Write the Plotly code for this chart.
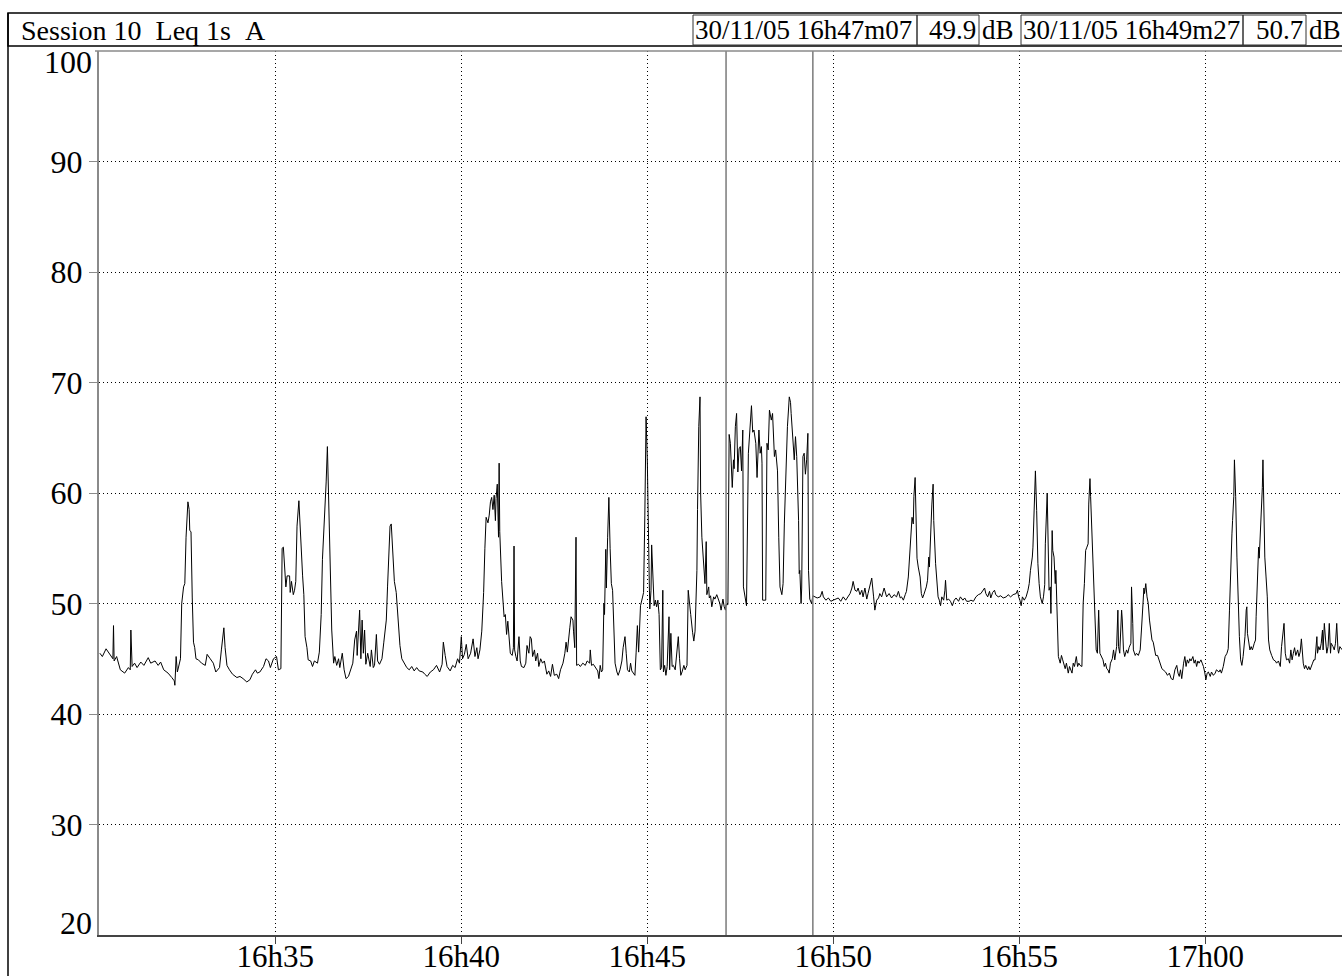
import pandas as pd
import plotly.graph_objects as go

# ---------------- data ----------------
SESSION_DAY = "2005-11-30"
START_TIME = "16:30:00"

# seconds after 16:30:00 and Leq 1s (dB(A))
t_sec = [
    17, 21, 27, 31, 35, 38, 39, 40, 44, 47, 50, 57, 63, 66, 67, 69, 73, 77, 83, 88,
    95, 99, 106, 111, 115, 120, 127, 133, 137, 138, 140, 142, 145, 147, 149, 152, 154, 156, 159, 161,
    162, 164, 166, 168, 170, 172, 176, 181, 187, 190, 195, 200, 204, 210, 213, 217, 219, 222, 226, 231,
    238, 243, 248, 254, 259, 263, 268, 271,
    275, 281, 285, 289, 292, 297, 302, 305, 309, 311, 313, 315, 317, 319, 323, 324, 326, 329, 331, 333,
    335, 338, 340, 342, 344, 346, 348, 351, 353, 357, 360, 363, 368, 371, 374, 376, 379, 382, 384, 386,
    388, 391, 394, 396, 399, 402, 404, 408, 411, 414, 418, 422, 425, 428, 431, 432, 434, 436, 438, 440,
    442, 444, 446, 449, 453, 455, 458, 460, 463, 465, 468, 472, 475, 479, 481, 483, 485, 487, 489, 490,
    492, 495, 497, 499, 501, 504, 508, 512, 516, 520, 524, 528, 532,
    538, 541, 545, 550, 555, 560, 565, 569, 571, 574, 577, 582, 586, 590, 594, 597, 600, 602, 605, 608,
    611, 615, 619, 622, 625, 627, 630, 633, 636, 638, 640, 643, 645, 647, 649, 651, 653, 655, 656, 658,
    660, 661, 662, 665, 667, 669, 671, 673, 675, 677, 679, 682, 684, 685, 686, 688, 690, 693, 695, 697,
    701, 704, 706, 709, 711, 713, 715, 718, 720, 723, 725, 728, 731, 734, 738, 741, 744, 747, 750, 754,
    757, 760, 764, 767, 769, 771, 773, 775, 777, 780, 781, 783, 785, 786, 789,
    792, 796, 800, 803, 807, 808, 810, 813, 817, 820, 822, 824, 826, 828, 830, 831, 833, 834, 836, 838,
    840, 842, 844, 846, 848, 851, 853, 856, 859, 861, 864, 866, 868, 871, 873, 875, 878, 880, 882, 884,
    886, 887, 889, 892, 894, 896, 898, 900, 901, 903, 904, 906, 907, 909, 911, 913, 915, 917, 919, 921,
    923, 925, 926, 928, 930, 932, 935, 936, 938, 940, 942, 945, 947, 950, 952, 954, 956, 959, 961, 964,
    966, 968, 970, 973, 975, 977, 980, 981, 983, 985, 986, 988, 990, 993, 995, 996, 999, 1000, 1002, 1004,
    1007, 1009, 1012, 1015, 1017, 1019, 1022, 1024, 1026, 1027, 1030, 1032, 1034, 1037, 1039, 1040, 1042, 1044, 1046, 1048,
    1050, 1052, 1054, 1055, 1058, 1060, 1063, 1066, 1068, 1070, 1072, 1075, 1077, 1080, 1082, 1084, 1085, 1086, 1088, 1091,
    1093, 1095, 1097, 1100, 1102, 1103, 1105, 1107, 1110, 1112, 1114, 1117, 1119, 1121, 1124, 1126, 1129, 1131, 1132, 1134,
    1137, 1139, 1141, 1144, 1145, 1146, 1148, 1149, 1151, 1153, 1155, 1157, 1159, 1160, 1162, 1165, 1167, 1170, 1174, 1179,
    1182, 1184, 1188, 1192, 1196, 1200, 1204, 1208, 1212, 1216, 1220, 1224, 1227, 1230, 1232, 1235, 1238, 1240, 1243, 1246,
    1248, 1251, 1254, 1256, 1259, 1262, 1265, 1267, 1270, 1273, 1275, 1278, 1282, 1286, 1290, 1294, 1298, 1302, 1305, 1308,
    1310, 1313, 1316, 1318, 1321, 1323, 1325, 1327, 1329, 1330, 1332, 1333, 1335, 1337, 1340, 1342, 1344, 1346, 1350, 1352,
    1354, 1355, 1357, 1359, 1361, 1362, 1365, 1367, 1369, 1371, 1373, 1375, 1378, 1380, 1381, 1383, 1386, 1389, 1392, 1395,
    1398, 1402, 1405, 1409, 1412, 1415, 1419, 1422, 1426, 1430, 1434, 1438, 1441, 1444, 1446, 1449, 1452, 1454, 1457, 1460,
    1462, 1466, 1470, 1474, 1479, 1482, 1486, 1490, 1495, 1497, 1499, 1501, 1503, 1505, 1508, 1511, 1514, 1516, 1518, 1521,
    1522, 1524, 1525, 1526, 1528, 1530, 1532, 1534, 1537, 1539, 1541, 1542, 1545, 1546, 1548, 1550, 1551, 1553, 1554, 1556,
    1558, 1559, 1561, 1563,
    1566, 1568, 1570, 1572, 1574, 1576, 1579, 1581, 1583, 1585, 1587, 1589, 1592, 1594, 1596, 1598, 1601, 1603, 1605, 1607,
    1609, 1611, 1612, 1614, 1615, 1617, 1618, 1620, 1622, 1624, 1626, 1628, 1630, 1632, 1635, 1637, 1639, 1641, 1643, 1645,
    1647, 1650, 1652, 1654, 1657, 1659, 1660, 1662, 1665, 1666, 1668, 1670, 1673, 1675, 1677, 1680, 1681, 1683, 1684, 1687,
    1689, 1692, 1695, 1697, 1699, 1701, 1702, 1704, 1706, 1708, 1710, 1712, 1714, 1716, 1718, 1720, 1723, 1725, 1727, 1730,
    1732, 1736, 1739, 1742, 1745, 1748, 1751, 1754, 1756, 1758, 1760, 1762, 1765, 1767, 1769, 1771, 1773, 1775, 1777, 1780,
    1782, 1784, 1786, 1788, 1790, 1793, 1795, 1797, 1799, 1801, 1803, 1805, 1808, 1810, 1813, 1816, 1818, 1822,
    1824, 1826, 1829, 1832, 1835, 1837, 1839, 1841, 1843, 1844, 1846, 1847, 1849, 1851, 1853, 1855, 1857, 1859, 1861, 1864,
    1866, 1867, 1868, 1870, 1872, 1874, 1876, 1879, 1881, 1882, 1884, 1886, 1887, 1889, 1890, 1892, 1893, 1894, 1896, 1898,
    1900, 1902, 1904, 1907, 1910, 1913, 1915, 1918, 1921, 1923, 1925, 1927, 1929, 1931, 1934, 1936, 1938, 1940, 1942, 1944,
    1946, 1949, 1951, 1953, 1955, 1957, 1958, 1960, 1962, 1965, 1967, 1969, 1971, 1973, 1975, 1977, 1980, 1981, 1983, 1985,
    1987, 1989, 1990, 1992, 1994, 1996, 1998, 2000, 2002, 2003, 2006, 2008, 2010, 2012, 2014, 2015, 2017, 2021,
]

leq_db = [
    45.5, 45.2, 45.9, 45.6, 45.2, 45.0, 48.0, 44.8, 45.2, 44.6, 44.0, 43.7, 44.2, 44.0, 47.6, 44.3, 44.6, 44.2, 44.7, 44.4,
    45.1, 44.6, 44.8, 44.4, 44.7, 44.0, 43.7, 43.3, 43.0, 42.6, 45.2, 43.8, 44.6, 45.0, 50.0, 51.5, 51.8, 56.0, 59.2, 58.5,
    56.6, 56.5, 50.5, 46.5, 46.0, 45.0, 44.9, 44.6, 44.4, 45.4, 45.0, 44.6, 43.8, 44.2, 45.8, 47.8, 46.0, 44.4, 44.0, 43.6,
    43.3, 43.4, 43.2, 42.9, 43.1, 43.6, 44.0, 43.7,
    43.8, 44.3, 45.0, 44.8, 44.2, 45.0, 45.2, 44.0, 44.1, 55.0, 55.1, 53.5, 51.5, 52.5, 52.5, 51.0, 52.0, 50.8, 51.2, 52.0,
    57.0, 59.3, 56.5, 55.0, 52.5, 50.8, 47.0, 46.0, 44.9, 44.8, 44.3, 44.8, 44.6, 45.6, 49.0, 54.0, 57.0, 61.0, 64.2, 60.0,
    53.5, 47.6, 44.6, 45.2, 44.4, 45.0, 44.2, 45.5, 44.0, 43.2, 43.4, 44.0, 44.6, 46.7, 47.5, 45.3, 48.0, 49.4, 45.0, 48.5,
    45.5, 47.6, 44.5, 45.5, 44.3, 45.8, 44.2, 44.4, 47.2, 44.8, 44.5, 45.0, 46.5, 48.5, 51.5, 54.0, 57.0, 57.2, 55.0, 53.5,
    52.0, 51.0, 49.0, 47.5, 46.2, 45.0, 44.6, 44.2, 44.0, 44.3, 43.9, 44.2, 43.9,
    43.8, 43.6, 43.4, 43.8, 44.0, 44.4, 43.8, 44.5, 46.5, 45.3, 44.3, 43.9, 44.4, 44.2, 45.0, 44.6, 47.0, 45.0, 45.4, 46.3,
    45.0, 45.5, 46.8, 45.2, 46.0, 45.0, 45.8, 47.5, 51.0, 55.0, 57.8, 57.3, 58.0, 59.2, 59.6, 58.5, 59.8, 57.5, 59.5, 60.8,
    56.0, 62.7, 56.5, 52.0, 50.0, 48.8, 49.0, 47.2, 48.4, 46.5, 45.5, 45.3, 46.0, 55.2, 45.8, 45.2, 44.8, 47.0, 44.8, 44.3,
    44.2, 44.6, 46.2, 45.5, 47.0, 46.8, 45.2, 45.8, 44.8, 45.5, 44.3, 45.0, 44.6, 44.8, 43.6, 43.9, 43.4, 44.5, 43.5, 43.6,
    43.2, 44.0, 44.6, 45.5, 46.5, 45.6, 47.0, 47.8, 48.8, 48.5, 47.5, 46.0, 56.0, 44.4, 44.5,
    44.3, 44.6, 44.4, 44.8, 44.6, 45.8, 44.4, 44.5, 44.2, 43.9, 43.2, 44.4, 43.8, 44.0, 50.0, 49.0, 54.9, 51.4, 56.0, 59.6,
    55.0, 51.8, 51.2, 47.0, 44.6, 43.8, 43.5, 44.0, 44.8, 46.0, 47.0, 45.5, 44.0, 43.8, 44.6, 43.9, 43.6, 43.5, 45.6, 48.0,
    45.6, 47.7, 49.8, 50.5, 51.0, 58.0, 66.9, 63.0, 58.0, 52.5, 49.5, 51.2, 55.3, 53.0, 49.8, 50.3, 49.7, 50.3, 49.0, 44.0,
    44.2, 51.2, 43.8, 44.4, 43.5, 44.3, 48.8, 44.0, 47.3, 44.3, 44.4, 44.0, 45.5, 47.0, 45.0, 43.5, 43.8, 44.4, 44.0, 44.4,
    51.2, 49.7, 49.0, 47.4, 46.6, 47.5, 53.0, 58.5, 66.0, 68.7, 60.0, 56.0, 54.5, 51.8, 55.6, 50.8, 51.5, 50.5, 50.7, 49.7,
    50.6, 50.4, 50.8, 50.3, 50.0, 49.4, 50.4, 49.7, 49.4, 49.9, 49.9, 65.3, 64.5, 60.5, 63.0, 62.2, 66.0, 67.2, 61.9, 64.0,
    64.2, 62.0, 65.7, 51.5, 50.6, 49.8, 63.6, 65.7, 67.9, 65.5, 65.7, 64.5, 61.4, 65.7, 63.6, 64.2, 62.7, 50.3, 50.3, 50.3,
    64.5, 63.9, 67.5, 66.6, 67.2, 65.7, 63.3, 63.9, 62.0, 56.0, 51.5, 50.8, 51.8, 57.2, 62.7, 66.0, 68.7, 68.2, 67.2, 65.1,
    63.0, 65.1, 63.3, 57.5, 52.7, 53.0, 50.0, 51.4, 63.3, 63.6, 61.7, 63.0, 65.4, 53.0, 50.4, 50.0, 50.7, 50.6, 50.5, 50.6,
    51.1, 50.6, 50.3, 50.5, 50.2, 50.3, 50.4, 50.5, 50.2, 50.6, 50.3, 50.6, 50.9, 51.4, 52.0, 51.2, 51.1, 51.4, 50.8, 51.2,
    50.6, 51.4, 50.4, 50.9, 51.5, 52.3, 50.6, 49.4, 50.3, 50.5, 50.9, 50.6, 51.4, 50.6, 50.9, 50.5, 50.8, 50.6, 51.1, 50.5,
    50.6, 50.3, 50.8, 51.1, 52.4, 54.2, 56.9, 57.8, 57.2, 59.7, 61.4, 58.5, 54.1, 53.3, 52.4, 50.9, 50.5, 50.8, 51.5, 52.1,
    54.2, 53.3, 56.9, 59.0, 60.8, 57.5, 53.6, 51.8, 50.6, 50.3, 49.8, 50.6, 50.3, 51.2, 52.1, 50.3, 50.4, 50.2, 49.8, 50.3,
    50.5, 50.2, 50.6, 50.3, 50.5, 50.2, 50.2, 50.3, 50.2, 50.6, 50.8, 50.9, 51.1, 51.4, 50.9, 50.6, 51.1, 50.5, 51.0, 51.2,
    50.8, 50.6, 50.7, 50.5, 50.6, 50.8, 50.6, 50.8, 50.9, 51.2, 50.6, 50.3, 49.8, 50.6, 50.3, 50.6, 51.2, 51.8, 53.0, 54.2,
    55.1, 58.4, 60.8, 62.0, 58.4, 53.6, 51.8, 50.6, 50.0, 50.6, 51.7, 55.4, 60.0, 56.0, 51.2, 51.5, 49.1, 56.6, 54.8, 54.2,
    51.8, 53.0, 49.4, 45.2,
    44.6, 45.3, 44.9, 44.4, 44.1, 44.6, 43.7, 44.3, 44.0, 43.7, 44.6, 44.3, 45.2, 44.3, 44.6, 44.4, 44.3, 50.0, 51.8, 54.8,
    55.1, 55.4, 59.0, 61.3, 59.7, 56.6, 54.2, 50.6, 47.6, 45.8, 45.5, 49.4, 45.5, 45.2, 44.9, 44.3, 44.6, 44.1, 44.0, 43.7,
    44.6, 45.0, 45.8, 44.9, 46.1, 49.4, 46.1, 45.5, 49.4, 48.6, 45.8, 45.2, 45.8, 45.5, 46.0, 46.4, 51.5, 48.2, 45.8, 45.3,
    45.5, 45.3, 45.8, 47.6, 50.0, 51.4, 50.9, 51.8, 50.6, 50.0, 48.5, 47.3, 46.7, 46.5, 45.8, 45.3, 45.3, 44.9, 44.6, 44.1,
    44.0, 43.8, 43.5, 43.7, 43.2, 43.1, 44.0, 44.4, 43.7, 43.4, 44.0, 43.2, 44.6, 45.2, 44.3, 44.9, 44.6, 45.0, 44.8, 45.2,
    44.6, 44.9, 44.3, 44.8, 44.6, 44.9, 44.6, 44.3, 43.8, 43.1, 43.7, 43.8, 43.4, 43.8, 43.5, 43.7, 44.0, 43.8,
    44.0, 43.7, 44.3, 45.2, 45.5, 45.9, 49.4, 54.2, 56.3, 57.5, 59.7, 63.0, 59.7, 54.2, 50.3, 47.0, 44.9, 44.4, 45.2, 47.0,
    49.4, 49.7, 47.3, 46.4, 45.8, 46.1, 45.8, 46.4, 46.7, 48.8, 51.8, 55.1, 54.1, 56.6, 57.5, 60.5, 63.0, 60.5, 54.2, 52.4,
    50.6, 46.7, 45.8, 45.3, 44.9, 44.8, 44.6, 44.8, 44.3, 46.1, 47.6, 48.2, 45.5, 44.9, 45.0, 44.6, 45.8, 44.9, 45.5, 46.0,
    45.3, 45.8, 45.2, 45.6, 46.8, 44.9, 44.6, 44.1, 44.4, 44.0, 44.3, 44.0, 44.4, 44.6, 44.9, 44.9, 47.0, 45.5, 46.1, 45.8,
    46.4, 47.6, 45.8, 48.2, 46.7, 45.5, 46.1, 48.2, 45.5, 46.4, 46.1, 45.8, 46.4, 48.2, 45.8, 45.5, 46.1, 45.8,
]

cursor_times = ["16:47:07", "16:49:27"]
cursor_values = [49.9, 50.7]
cursor_labels = ["30/11/05 16h47m07", "30/11/05 16h49m27"]

x_tick_times = ["16:35:00", "16:40:00", "16:45:00", "16:50:00", "16:55:00", "17:00:00"]
x_tick_labels = ["16h35", "16h40", "16h45", "16h50", "16h55", "17h00"]
y_grid_ticks = [30, 40, 50, 60, 70, 80, 90]
y_edge_ticks = [100, 20]

title_text = "Session 10  Leq 1s  A"
x_range = ["16:30:15.6", "17:03:40.5"]
y_range = [20, 100]

# ---------------- figure ----------------
W, H = 1342, 976
L, R, T, B = 99, 0, 51, 41
PW, PH = W - L - R, H - T - B
FONT = "Liberation Serif, Times New Roman, serif"


def px(x):
    return (x - L) / PW


def py(y):
    return (H - B - y) / PH


def ts(hms):
    return pd.Timestamp(f"{SESSION_DAY} {hms}")


base = ts(START_TIME)
x_vals = [base + pd.Timedelta(seconds=s) for s in t_sec]

fig = go.Figure()
fig.add_trace(go.Scatter(
    x=x_vals, y=leq_db, mode="lines",
    line=dict(color="black", width=1),
    hoverinfo="skip", showlegend=False,
))

shapes = []
# cursors
for ct in cursor_times:
    shapes.append(dict(type="line", xref="x", yref="paper",
                       x0=ts(ct), x1=ts(ct), y0=0, y1=1,
                       line=dict(color="#7a7a7a", width=1.5)))
# plot top border (grey)
shapes.append(dict(type="line", xref="paper", yref="paper",
                   x0=px(95), x1=px(1345), y0=1, y1=1,
                   line=dict(color="#8a8a8a", width=1.5)))
# header band
shapes.append(dict(type="rect", xref="paper", yref="paper",
                   x0=px(8), x1=px(1346), y0=py(46), y1=py(13),
                   line=dict(color="black", width=1.5), fillcolor="rgba(0,0,0,0)"))
# outer left frame
shapes.append(dict(type="line", xref="paper", yref="paper",
                   x0=px(8), x1=px(8), y0=py(980), y1=py(13),
                   line=dict(color="black", width=1.5)))
# header boxes on the right
for (a, b) in [(693, 917), (917, 979), (1021, 1243), (1243, 1306)]:
    shapes.append(dict(type="rect", xref="paper", yref="paper",
                       x0=px(a), x1=px(b), y0=py(45), y1=py(15),
                       line=dict(color="#333333", width=1), fillcolor="rgba(0,0,0,0)"))

nb = lambda s: s.replace(" ", "\u00a0")

annotations = [
    dict(text=nb(title_text), xref="paper", yref="paper", x=px(19), y=py(30),
         xanchor="left", yanchor="middle", showarrow=False,
         font=dict(family=FONT, size=28, color="black")),
]
label_pos = [(693, 978, 980), (1021, 1305, 1307)]
for lab, val, (xd, xv, xu) in zip(cursor_labels, cursor_values, label_pos):
    annotations.append(dict(text=nb(lab), xref="paper", yref="paper", x=px(xd), y=py(30),
                            xanchor="left", yanchor="middle", showarrow=False,
                            font=dict(family=FONT, size=27, color="black")))
    annotations.append(dict(text=f"{val:.1f}", xref="paper", yref="paper", x=px(xv), y=py(30),
                            xanchor="right", yanchor="middle", showarrow=False,
                            font=dict(family=FONT, size=27, color="black")))
    annotations.append(dict(text="dB", xref="paper", yref="paper", x=px(xu), y=py(30),
                            xanchor="left", yanchor="middle", showarrow=False,
                            font=dict(family=FONT, size=27, color="black")))
# edge y labels (100 and 20) kept inside the frame as in the original
for v, shift in zip(y_edge_ticks, [-11, 12]):
    annotations.append(dict(text=str(v), xref="paper", yref="y", x=px(94), y=v,
                            xanchor="right", yanchor="middle", yshift=shift, showarrow=False,
                            font=dict(family=FONT, size=32, color="black")))

fig.update_layout(
    width=W, height=H,
    margin=dict(l=L, r=R, t=T, b=B, pad=0, autoexpand=False),
    paper_bgcolor="white", plot_bgcolor="white",
    showlegend=False,
    shapes=shapes,
    annotations=annotations,
    xaxis=dict(
        type="date",
        automargin=False,
        range=[ts(x_range[0]), ts(x_range[1])],
        tickmode="array",
        tickvals=[ts(t) for t in x_tick_times],
        ticktext=x_tick_labels,
        ticks="outside", ticklen=7, tickcolor="#444444", tickwidth=1,
        showline=True, linecolor="#444444", linewidth=1.5,
        showgrid=True, gridcolor="black", gridwidth=1, griddash="1px,3px",
        zeroline=False,
        ticklabelstandoff=-14,
        tickfont=dict(family=FONT, size=31, color="black"),
    ),
    yaxis=dict(
        automargin=False,
        range=y_range,
        tickmode="array",
        tickvals=y_grid_ticks,
        ticktext=[str(v) for v in y_grid_ticks],
        ticks="outside", ticklen=8, tickcolor="#8a8a8a", tickwidth=1,
        showline=True, linecolor="#8a8a8a", linewidth=2,
        showgrid=True, gridcolor="black", gridwidth=1, griddash="1px,3px",
        zeroline=False,
        ticklabelstandoff=0,
        tickfont=dict(family=FONT, size=32, color="black"),
    ),
)

fig.write_html(
    "out.html",
    config={"displayModeBar": False},
    post_script="document.body.style.margin='0px';document.body.style.overflow='hidden';",
)
